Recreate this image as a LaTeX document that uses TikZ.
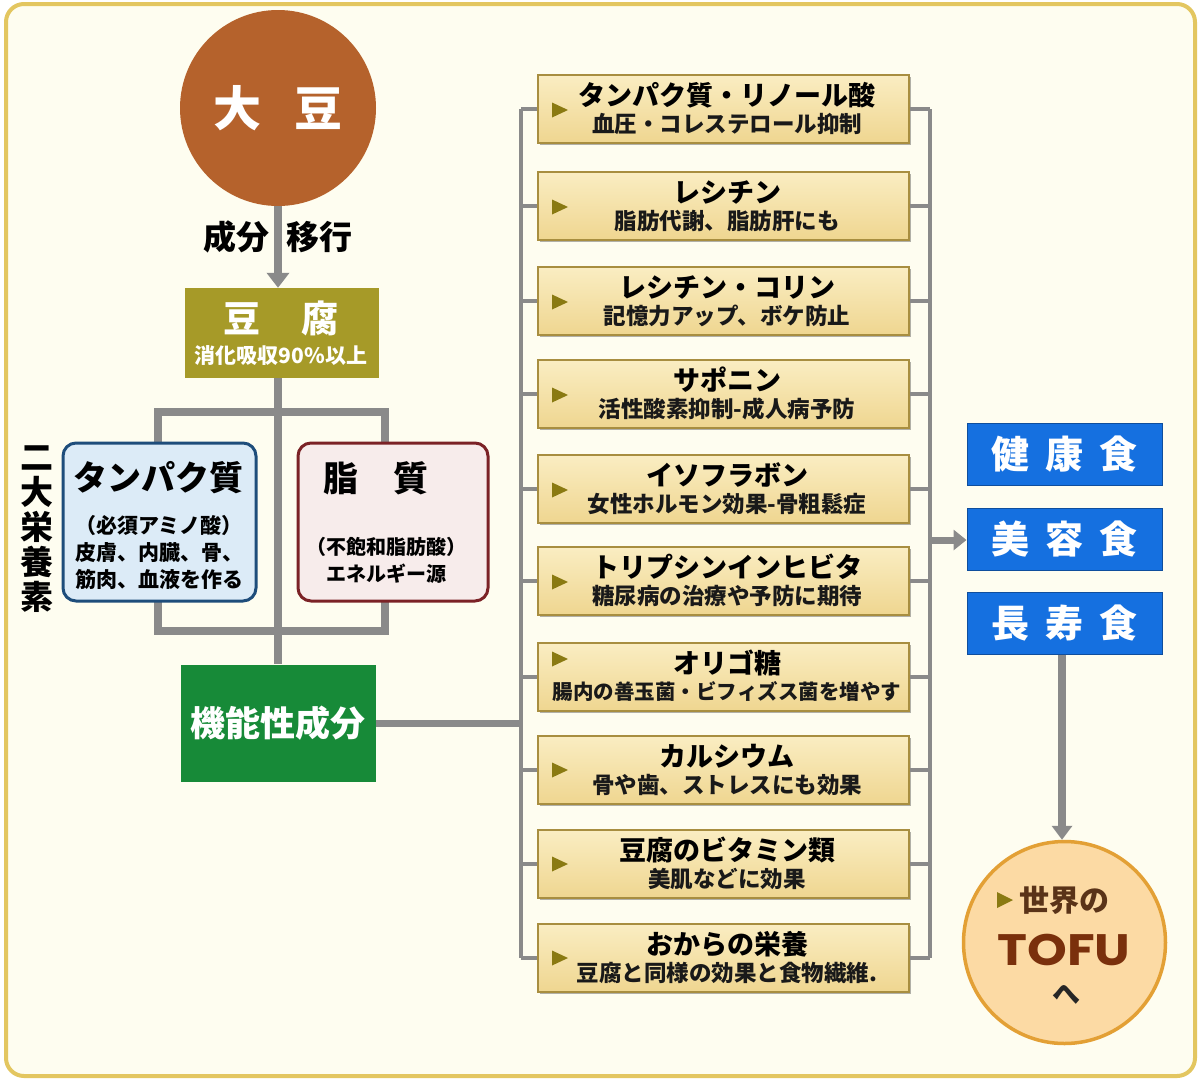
\documentclass[tikz,border=0pt]{standalone}
\usepackage{fontspec}
\setmainfont{Noto Sans CJK JP}
\newfontfamily\latinwide{Poppins}
\usetikzlibrary{shadows,arrows.meta}
\definecolor{bgc}{HTML}{FEFDF0}
\definecolor{framec}{HTML}{E3C660}
\definecolor{soyc}{HTML}{B5622C}
\definecolor{tofuc}{HTML}{A69A28}
\definecolor{connc}{HTML}{8A8A8A}
\definecolor{protfill}{HTML}{DCEBF7}
\definecolor{protline}{HTML}{1E4D7B}
\definecolor{fatfill}{HTML}{F7ECEB}
\definecolor{fatline}{HTML}{7B2226}
\definecolor{funcc}{HTML}{178A38}
\definecolor{itemtop}{HTML}{FAEDC2}
\definecolor{itembot}{HTML}{EFD690}
\definecolor{itemline}{HTML}{A88E40}
\definecolor{markc}{HTML}{8A7A12}
\definecolor{foodc}{HTML}{1570E0}
\definecolor{tofufill}{HTML}{FCDAA4}
\definecolor{tofuline}{HTML}{E3A035}
\definecolor{tofutext}{HTML}{7A300C}
\definecolor{worldc}{HTML}{5A3318}
\newcommand\fs[1]{\fontsize{#1}{#1}\selectfont\bfseries}
\tikzset{
  conn/.style={draw=connc, line width=3.5},
  thickconn/.style={draw=connc, line width=8},
  bigarrow/.style={draw=connc, line width=8, -{Triangle[length=15pt,width=22pt]}},
  item/.style={draw=itemline, line width=1.5, top color=itemtop, bottom color=itembot,
    minimum width=371, minimum height=68, inner sep=0,
    drop shadow={shadow xshift=2pt, shadow yshift=-2pt, fill=black, opacity=0.3}},
  ttl/.style={font=\fs{27}, text=black, inner sep=0},
  sub/.style={font=\fs{22.5}, text=black!90, inner sep=0},
  food/.style={fill=foodc, draw=foodc!70!black, line width=1, minimum width=195, minimum height=62,
    inner sep=0, text=white, font=\fs{38}},
  plain/.style={inner sep=0}
}
\newcommand\itembox[5]{%
  \node[item] (#1) at (723.5,#2) {};
  \node[ttl] (#1t) at (727,#2-14) {#3};
  \node[sub] (#1s) at (727,#2+15) {#4};
  \fill[markc] (552,#2+#5-7.5) -- (568,#2+#5) -- (552,#2+#5+7.5) -- cycle;
  \draw[conn] (#1.west -| busL) -- (#1.west);
  \draw[conn] (#1.east) -- (#1.east -| busR);
}
\begin{document}
\begin{tikzpicture}[x=1pt,y=-1pt]
\useasboundingbox (0,0) rectangle (1200,1080);
\fill[white] (0,0) rectangle (1200,1080);
\draw[framec, line width=4, fill=bgc, rounded corners=18] (6,4) rectangle (1195,1076);

% buses
\coordinate (busL) at (521,0);
\coordinate (busR) at (930,0);
\draw[conn] (521,109) -- (521,958);
\draw[conn] (930,109) -- (930,958);

% soybean
\node[circle, fill=soyc, minimum size=196, inner sep=0, text=white, font=\fs{48}] (soy) at (278,108) {大\hspace{34pt}豆};
% tofu box
\node[fill=tofuc, minimum width=194, minimum height=90, inner sep=0] (tofu) at (282,333) {};
\node[plain, text=white, font=\fs{37}] (tofut) at (281,318) {豆\hspace{42pt}腐};
\node[plain, text=white, font=\fs{21}] (tofus) at (281,356) {消化吸収90\%以上};
\draw[bigarrow] (soy.south) -- (soy.south |- tofu.north);
\node[plain, font=\fs{33}, anchor=east] (lab1) at (270,237) {成分};
\node[plain, font=\fs{33}, anchor=west] (lab2) at (286,237) {移行};

% functional components box
\node[fill=funcc, minimum width=195, minimum height=117, inner sep=0, text=white, font=\fs{35}] (func) at (278,723) {機能性成分};

% bracket and trunk
\draw[thickconn] (158,412) rectangle (385,631);
\draw[thickconn] (tofu.south -| soy.south) -- (func.north -| soy.south);
\draw[draw=connc, line width=7] (func.east) -- (func.east -| busL);

% nutrient boxes
\node[draw=protline, fill=protfill, line width=3, rounded corners=13, minimum width=193, minimum height=158, inner sep=0] (prot) at (159.5,522) {};
\node[plain, font=\fs{34}] (prott) at (158,478) {タンパク質};
\node[plain, font=\fs{21}, align=center] (prots) at (159,552) {（必須アミノ酸）\\[6pt]皮膚、内臓、骨、\\[6pt]筋肉、血液を作る};
\node[draw=fatline, fill=fatfill, line width=3, rounded corners=13, minimum width=190, minimum height=158, inner sep=0] (fat) at (393,522) {};
\node[plain, font=\fs{35}] (fatt) at (376,478) {脂\hspace{36pt}質};
\node[plain, font=\fs{20}, align=center] (fats) at (386,560) {（不飽和脂肪酸）\\[7pt]エネルギー源};
\node[plain, font=\fs{33}, align=center] (two) at (37,529) {二\\[2pt]大\\[2pt]栄\\[2pt]養\\[2pt]素};

% items
\itembox{i1}{109}{タンパク質・リノール酸}{血圧・コレステロール抑制}{1}
\itembox{i2}{206}{レシチン}{脂肪代謝、脂肪肝にも}{1}
\itembox{i3}{301}{レシチン・コリン}{記憶力アップ、ボケ防止}{1}
\itembox{i4}{394}{サポニン}{活性酸素抑制-成人病予防}{1}
\itembox{i5}{489}{イソフラボン}{女性ホルモン効果-骨粗鬆症}{1}
\itembox{i6}{581}{トリプシンインヒビタ}{糖尿病の治療や予防に期待}{1}
\itembox{i7}{677}{オリゴ糖}{{\fontsize{20.5}{20}\selectfont 腸内の善玉菌・ビフィズス菌を増やす}}{-18}
\itembox{i8}{770}{カルシウム}{骨や歯、ストレスにも効果}{0}
\itembox{i9}{864}{豆腐のビタミン類}{美肌などに効果}{0}
\itembox{i10}{958}{おからの栄養}{豆腐と同様の効果と食物繊維.}{0}

% foods
\node[food] (f1) at (1064.5,454) {健\hspace{16pt}康\hspace{16pt}食};
\node[food] (f2) at (1064.5,539) {美\hspace{16pt}容\hspace{16pt}食};
\node[food] (f3) at (1064.5,623) {長\hspace{16pt}寿\hspace{16pt}食};
\coordinate (busArrow) at (930,540);
\draw[draw=connc, line width=7, -{Triangle[length=13pt,width=20pt]}] (busArrow) -- (busArrow -| f2.west);

% TOFU circle
\node[circle, draw=tofuline, line width=3.5, fill=tofufill, minimum size=202, inner sep=0] (world) at (1064.5,942.5) {};
\draw[draw=connc, line width=8, -{Triangle[length=14pt,width=20pt]}] (f3.south -| 1062,0) -- (world.north -| 1062,0);
\node[plain, font=\fs{30}, text=worldc, anchor=west] (worldt) at (1019,900) {世界の};
\fill[markc] (997,892) -- (1013,900) -- (997,908) -- cycle;
\node[plain, font={\latinwide\bfseries\fontsize{44}{44}\selectfont}, text=tofutext] (tofuword) at (1064,950) {\scalebox{1.15}[1]{TOFU}};
\node[plain, font=\fs{28}, text=black!85] (he) at (1066,995) {へ};
\end{tikzpicture}
\end{document}
